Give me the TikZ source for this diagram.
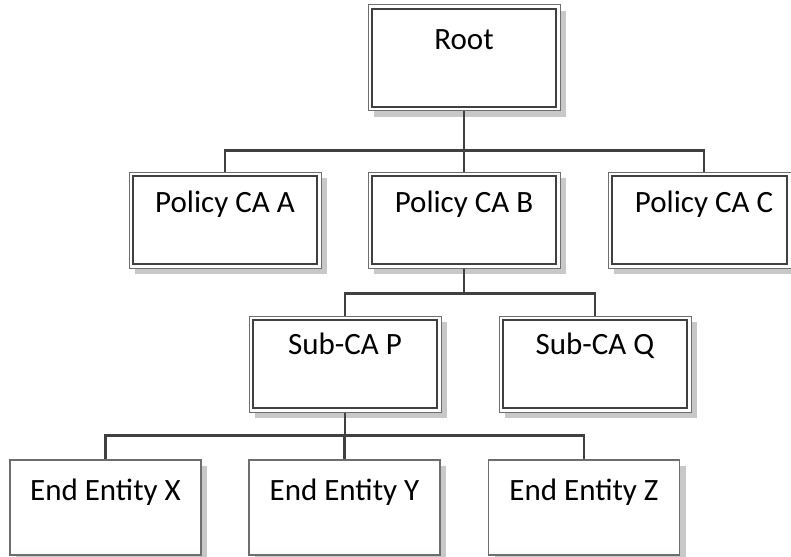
\documentclass[tikz,border=0pt]{standalone}
\usepackage{fontspec}
\setmainfont{Carlito}
\definecolor{shadowc}{HTML}{C8C8C8}
\definecolor{outerc}{HTML}{6E6E6E}
\definecolor{innerc}{HTML}{404040}
\definecolor{connc}{HTML}{404040}
\definecolor{eebot}{HTML}{E4E4E4}
\pgfdeclareverticalshading{eegrad}{100bp}{color(0bp)=(eebot); color(30bp)=(white); color(100bp)=(white)}
\begin{document}
\begin{tikzpicture}[x=1pt,y=-1pt,
  shadowed/.style={preaction={fill=shadowc, transform canvas={shift={(6pt,-6pt)}}}},
  cabox/.style={shadowed, draw=outerc, line width=1pt, fill=white, inner sep=0pt, minimum width=192pt, minimum height=96pt},
  eebox/.style={shadowed, draw=outerc, line width=1.1pt, shading=eegrad, inner sep=0pt, minimum width=191pt, minimum height=95pt},
  innerline/.style={draw=innerc, line width=1.2pt},
  lbl/.style={anchor=base, inner sep=0pt, font=\fontsize{31}{36}\selectfont},
  conn/.style={draw=connc, line width=2.2pt},
]
\useasboundingbox (0,0) rectangle (791,556);

% double-framed boxes
\node[cabox, minimum height=106pt] (root) at (464,58) {};
\node[cabox] (pA) at (225,220) {};
\node[cabox] (pB) at (464,220) {};
\node[cabox, minimum width=183pt] (pC) at (699.5,220) {};
\node[cabox] (sP) at (345,364) {};
\node[cabox] (sQ) at (595,364) {};
\foreach \b in {root,pA,pB,pC,sP,sQ}
  \draw[innerline] ([shift={(4.5,4.5)}]\b.north west) rectangle ([shift={(-4.5,-4.5)}]\b.south east);

% end entity boxes
\node[eebox] (eX) at (105.5,507.5) {};
\node[eebox] (eY) at (344.5,507.5) {};
\node[eebox] (eZ) at (584,507.5) {};

% labels
\node[lbl] (rootT) at (464,50) {Root};
\node[lbl] (pAT) at (225,212) {Policy CA A};
\node[lbl] (pBT) at (464,212) {Policy CA B};
\node[lbl] (pCT) at (704,212) {Policy CA C};
\node[lbl] (sPT) at (345,354) {Sub-CA P};
\node[lbl] (sQT) at (595,354) {Sub-CA Q};
\node[lbl] (eXT) at (105.5,500) {End Entity X};
\node[lbl] (eYT) at (344.5,500) {End Entity Y};
\node[lbl] (eZT) at (584,500) {End Entity Z};

% connectors
\coordinate (busR) at ([yshift=-39pt]root.south);
\coordinate (busB) at ([yshift=-25pt]pB.south);
\coordinate (busP) at ([yshift=-23pt]sP.south);
\draw[conn] (root.south) -- (busR);
\draw[conn] (busR) -| (pA.north);
\draw[conn] (busR) -- (pB.north);
\draw[conn] (busR) -| (pCT |- pC.north);
\draw[conn] (pB.south) -- (busB);
\draw[conn] (busB) -| (sP.north);
\draw[conn] (busB) -| (sQ.north);
\draw[conn] (sP.south) -- (busP);
\draw[conn] (busP) -| (eX.north);
\draw[conn] (busP) -| (eY.north);
\draw[conn] (busP) -| (eZ.north);
\end{tikzpicture}
\end{document}
